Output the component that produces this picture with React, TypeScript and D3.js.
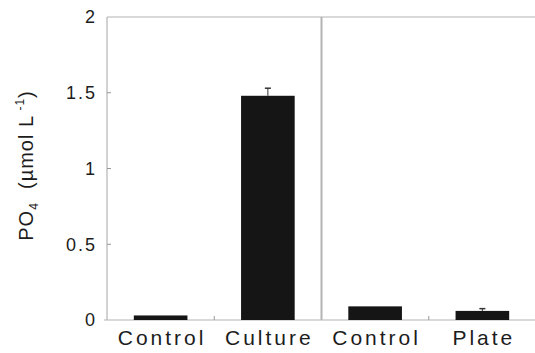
import React, { useEffect, useRef } from 'react'
import * as d3 from 'd3'

const categories = ['Control', 'Culture', 'Control', 'Plate']
const values = [0.03, 1.48, 0.09, 0.06]
const errors = [0, 0.05, 0, 0.015]
const yTicks = [0, 0.5, 1, 1.5, 2]

const App = () => {
    const parentEl = useRef(null)

    useEffect(() => {
        const width = 535
        const height = 353
        const margin = { top: 17, right: -1, bottom: 33, left: 107 }
        const ink = '#1c1c1c'
        const axisGrey = '#b4b4b4'
        const font = '"Liberation Sans", Arial, Helvetica, sans-serif'

        d3.select(parentEl.current).selectAll('*').remove()
        const svg = d3.select(parentEl.current)
            .append('svg')
            .attr('width', width)
            .attr('height', height)
            .style('display', 'block')
            .style('background', '#fff')

        const idx = categories.map((d, i) => i)
        const x = d3.scaleBand()
            .domain(idx)
            .range([margin.left, width - margin.right])
            .padding(0)
        const y = d3.scaleLinear()
            .domain([0, 2])
            .range([height - margin.bottom, margin.top])

        const barW = x.bandwidth() * 0.5

        // frame lines
        svg.append('line')
            .attr('x1', margin.left).attr('x2', width)
            .attr('y1', y(2)).attr('y2', y(2))
            .attr('stroke', axisGrey).attr('stroke-width', 1.2)
        svg.append('line')
            .attr('x1', margin.left).attr('x2', margin.left)
            .attr('y1', y(2)).attr('y2', y(0))
            .attr('stroke', axisGrey).attr('stroke-width', 1.2)
        svg.append('line')
            .attr('x1', margin.left - 3).attr('x2', width)
            .attr('y1', y(0)).attr('y2', y(0))
            .attr('stroke', axisGrey).attr('stroke-width', 1.2)
        // divider between the two experiments
        svg.append('line')
            .attr('x1', x(2)).attr('x2', x(2))
            .attr('y1', y(2)).attr('y2', y(0))
            .attr('stroke', axisGrey).attr('stroke-width', 2)

        // y ticks
        svg.selectAll('line.ytick')
            .data(yTicks.slice(1, -1))
            .enter()
            .append('line')
            .attr('class', 'ytick')
            .attr('x1', margin.left).attr('x2', margin.left + 4)
            .attr('y1', d => y(d)).attr('y2', d => y(d))
            .attr('stroke', '#999')
        svg.selectAll('text.ylabel')
            .data(yTicks)
            .enter()
            .append('text')
            .attr('class', 'ylabel')
            .attr('x', 97)
            .attr('y', d => y(d))
            .attr('dy', '0.36em')
            .attr('text-anchor', 'end')
            .style('font-family', font)
            .style('font-size', '18px')
            .style('letter-spacing', '2px')
            .style('fill', ink)
            .text(d => d)

        // x ticks between bars of each experiment
        svg.selectAll('line.xtick')
            .data([1, 3])
            .enter()
            .append('line')
            .attr('class', 'xtick')
            .attr('x1', d => x(d)).attr('x2', d => x(d))
            .attr('y1', y(0)).attr('y2', y(0) - 4)
            .attr('stroke', '#999')

        // bars
        svg.selectAll('rect.bar')
            .data(values)
            .enter()
            .append('rect')
            .attr('class', 'bar')
            .attr('x', (d, i) => x(i) + (x.bandwidth() - barW) / 2)
            .attr('y', d => y(d))
            .attr('width', barW)
            .attr('height', d => y(0) - y(d))
            .attr('fill', '#151515')

        // error bars (upper only)
        const errs = svg.selectAll('g.err')
            .data(values.map((v, i) => ({ v, e: errors[i], i })).filter(d => d.e > 0))
            .enter()
            .append('g')
            .attr('class', 'err')
        errs.append('line')
            .attr('x1', d => x(d.i) + x.bandwidth() / 2)
            .attr('x2', d => x(d.i) + x.bandwidth() / 2)
            .attr('y1', d => y(d.v))
            .attr('y2', d => y(d.v + d.e))
            .attr('stroke', '#333')
        errs.append('line')
            .attr('x1', d => x(d.i) + x.bandwidth() / 2 - 3)
            .attr('x2', d => x(d.i) + x.bandwidth() / 2 + 3)
            .attr('y1', d => y(d.v + d.e))
            .attr('y2', d => y(d.v + d.e))
            .attr('stroke', '#333')
            .attr('stroke-width', 1.5)

        // category labels
        svg.selectAll('text.xlabel')
            .data(categories)
            .enter()
            .append('text')
            .attr('class', 'xlabel')
            .attr('x', (d, i) => x(i) + x.bandwidth() / 2 + 1.5)
            .attr('y', 345)
            .attr('text-anchor', 'middle')
            .style('font-family', font)
            .style('font-size', '21px')
            .style('letter-spacing', '3px')
            .style('fill', ink)
            .text(d => d)

        // y axis title
        const title = svg.append('text')
            .attr('transform', `translate(33, ${y(1) - 3}) rotate(-90)`)
            .attr('text-anchor', 'middle')
            .style('font-family', font)
            .style('font-size', '20px')
            .style('letter-spacing', '1px')
            .style('fill', ink)
        title.append('tspan').text('PO')
        title.append('tspan').attr('dy', 5).style('font-size', '12px').text('4')
        title.append('tspan').attr('dy', -5).text('\u00a0\u00a0(\u00b5mol L')
        title.append('tspan').attr('dy', -9).style('font-size', '12px').text('\u00a0-1')
        title.append('tspan').attr('dy', 9).text(')')
    }, [])

    return (
        <div ref={parentEl}
            style={{ position: 'absolute', left: 0, top: 0 }}>
        </div>
    )
}

export default App
